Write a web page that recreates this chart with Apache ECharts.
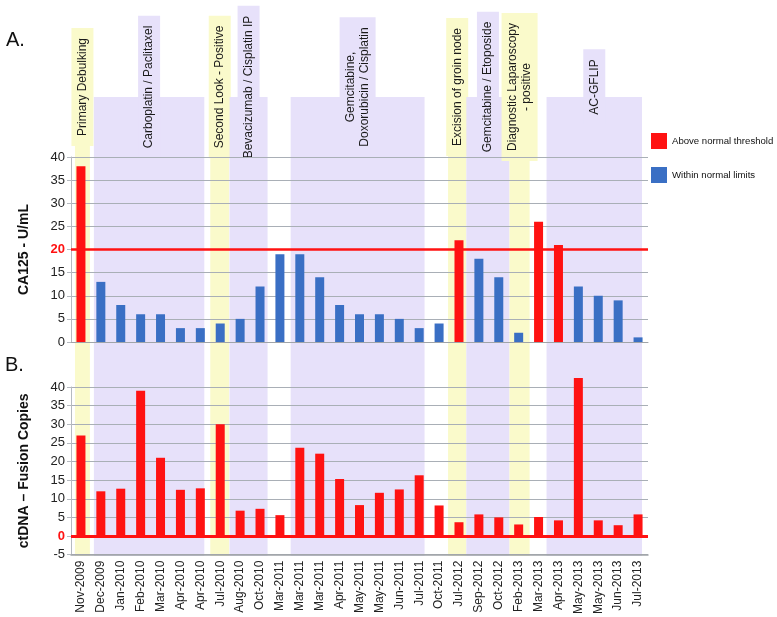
<!DOCTYPE html>
<html>
<head>
<meta charset="utf-8">
<script src="https://cdn.jsdelivr.net/npm/echarts@6/dist/echarts.min.js"></script>
<style>
  html, body { margin: 0; padding: 0; background: #fff; }
  #chart { width: 777px; height: 617px; }
</style>
</head>
<body>
<div id="chart"></div>
<script>
// ── Data ──

const dates = [
  'Nov-2009', 'Dec-2009', 'Jan-2010', 'Feb-2010', 'Mar-2010', 'Apr-2010', 'Apr-2010',
  'Jul-2010', 'Aug-2010', 'Oct-2010', 'Mar-2011', 'Mar-2011', 'Mar-2011', 'Apr-2011',
  'May-2011', 'May-2011', 'Jun-2011', 'Jul-2011', 'Oct-2011', 'Jul-2012', 'Sep-2012',
  'Oct-2012', 'Feb-2013', 'Mar-2013', 'Apr-2013', 'May-2013', 'May-2013', 'Jun-2013',
  'Jul-2013',
];

const ca125 = [38, 13, 8, 6, 6, 3, 3, 4, 5, 12, 19, 19, 14, 8, 6, 6, 5, 3, 4, 22, 18, 14, 2, 26, 21, 12, 10, 9, 1];

const ctdna = [27, 12, 12.7, 39, 21, 12.4, 12.8, 30, 6.8, 7.3, 5.6, 23.7, 22.1, 15.3, 8.3, 11.6,
  12.5, 16.3, 8.2, 3.7, 5.8, 5.0, 3.1, 5.1, 4.2, 42.4, 4.2, 2.9, 5.8];

const CA125_THRESHOLD = 20;

// treatment periods, in category units
const bandStart = [-0.3, 0.65, 6.5, 7.47, 10.54, 18.45, 19.37, 21.54, 23.4];
const bandEnd = [0.45, 6.2, 7.45, 9.38, 17.27, 19.37, 21.54, 22.55, 28.2];
const bandKind = ['surgery', 'chemo', 'surgery', 'chemo', 'chemo', 'surgery', 'chemo', 'surgery', 'chemo'];
const bandLabels = [
  ['Primary Debulking'],
  ['Carboplatin / Paclitaxel'],
  ['Second Look - Positive'],
  ['Bevacizumab / Cisplatin IP'],
  ['Gemcitabine,', 'Doxorubicin / Cisplatin'],
  ['Excision of groin node'],
  ['Gemcitabine / Etoposide'],
  ['Diagnostic Laparoscopy', '- positive'],
  ['AC-GFLIP'],
];

// ── Style ──

const RED = '#ff1212';
const BLUE = '#3a6fc4';
const LAVENDER = '#e7e1fa';
const YELLOW = '#fafacb';
const GRID = '#a9afb6';
const TEXT = '#222';
const FONT = '"Liberation Sans", Arial, sans-serif';

const GRID_L = 71, GRID_R = 129;
const BAND_TOP = 97;     // px
const LABEL_MID = 87;    // px
const PLOT_BOTTOM = 556; // px

function yAxisCommon(min, name, redValue) {
  return {
    type: 'value', min: min, max: 40, interval: 5,
    name: name, nameLocation: 'middle', nameGap: 40,
    nameTextStyle: { fontSize: 14, fontWeight: 'bold', color: '#111', fontFamily: FONT },
    axisLine: { show: true, lineStyle: { color: '#b5bac0' } },
    axisTick: { show: true, length: 4, lineStyle: { color: '#b5bac0' } },
    axisLabel: {
      fontSize: 13, color: TEXT, fontFamily: FONT, margin: 6,
      formatter: (v) => v === redValue ? '{r|' + v + '}' : String(v),
      rich: { r: { color: RED, fontSize: 13, fontWeight: 'bold', fontFamily: FONT } },
    },
    splitLine: { lineStyle: { color: GRID, width: 1.2 } },
  };
}

function renderBand(params, api) {
  const i = params.dataIndex;
  const x0 = api.coord([api.value(0), 0])[0];
  const x1 = api.coord([api.value(1), 0])[0];
  const yTop = api.coord([0, BAND_TOP])[1];
  const yBot = api.coord([0, PLOT_BOTTOM])[1];
  const yMid = api.coord([0, LABEL_MID])[1];
  const fill = bandKind[i] === 'surgery' ? YELLOW : LAVENDER;
  return {
    type: 'group',
    children: [
      {
        type: 'rect',
        shape: { x: x0, y: yTop, width: x1 - x0, height: yBot - yTop },
        style: { fill: fill },
      },
      {
        type: 'text',
        x: (x0 + x1) / 2, y: yMid,
        rotation: Math.PI / 2,
        style: {
          text: bandLabels[i].join('\n'),
          fill: '#1a1a1a', fontSize: 12, fontFamily: FONT, lineHeight: 14,
          align: 'center', verticalAlign: 'middle',
          backgroundColor: fill, padding: [4, 10],
        },
      },
    ],
  };
}

const chart = echarts.init(document.getElementById('chart'));

chart.setOption({
  backgroundColor: '#fff',
  animation: false,
  title: [
    { text: 'A.', left: 1, top: 25, textStyle: { fontSize: 20, fontWeight: 'normal', color: '#111', fontFamily: FONT } },
    { text: 'B.', left: 0, top: 350, textStyle: { fontSize: 20, fontWeight: 'normal', color: '#111', fontFamily: FONT } },
  ],
  legend: {
    data: ['Above normal threshold', 'Within normal limits'],
    orient: 'vertical', left: 651, top: 133, padding: 0,
    icon: 'rect', itemWidth: 16, itemHeight: 16, itemGap: 18,
    textStyle: { fontSize: 9.6, color: '#111', fontFamily: FONT },
  },
  grid: [
    { left: GRID_L, right: GRID_R, top: 157, height: 185 },
    { left: GRID_L, right: GRID_R, top: 387, bottom: 617 - PLOT_BOTTOM },
    { left: GRID_L, right: GRID_R, top: 0, bottom: 617 - PLOT_BOTTOM },
  ],
  xAxis: [
    {
      type: 'category', gridIndex: 0, data: dates,
      axisLine: { lineStyle: { color: '#a0a4a8' } },
      axisTick: { show: false }, axisLabel: { show: false },
    },
    {
      type: 'category', gridIndex: 1, data: dates,
      axisLine: { onZero: false, lineStyle: { color: '#a0a4a8', width: 1.5 } },
      axisTick: { show: false },
      axisLabel: { interval: 0, rotate: 90, fontSize: 12, color: TEXT, fontFamily: FONT, margin: 6 },
    },
    { type: 'value', gridIndex: 2, min: -0.5, max: dates.length - 0.5, show: false },
  ],
  yAxis: [
    Object.assign({ gridIndex: 0 }, yAxisCommon(0, 'CA125 - U/mL', CA125_THRESHOLD)),
    Object.assign({ gridIndex: 1 }, yAxisCommon(-5, 'ctDNA – Fusion Copies', 0)),
    { type: 'value', gridIndex: 2, min: 0, max: PLOT_BOTTOM, inverse: true, show: false },
  ],
  series: [
    {
      type: 'custom', name: 'treatments', xAxisIndex: 2, yAxisIndex: 2, z: -1,
      silent: true, clip: false,
      renderItem: renderBand,
      data: bandStart.map((s, i) => [s, bandEnd[i]]),
    },
    {
      name: 'Above normal threshold', type: 'bar', xAxisIndex: 0, yAxisIndex: 0,
      barWidth: 9, barGap: '-100%',
      itemStyle: { color: RED },
      data: ca125.map(v => v > CA125_THRESHOLD ? v : '-'),
      markLine: {
        silent: true, symbol: 'none', label: { show: false },
        lineStyle: { color: RED, width: 2.5, type: 'solid' },
        data: [{ yAxis: CA125_THRESHOLD }],
      },
    },
    {
      name: 'Within normal limits', type: 'bar', xAxisIndex: 0, yAxisIndex: 0,
      barWidth: 9, barGap: '-100%',
      itemStyle: { color: BLUE },
      data: ca125.map(v => v <= CA125_THRESHOLD ? v : '-'),
    },
    {
      name: 'ctDNA', type: 'bar', xAxisIndex: 1, yAxisIndex: 1,
      barWidth: 9, clip: false,
      itemStyle: { color: RED },
      data: ctdna,
      markLine: {
        silent: true, symbol: 'none', label: { show: false },
        lineStyle: { color: RED, width: 3, type: 'solid' },
        data: [{ yAxis: 0 }],
      },
    },
  ],
});
</script>
</body>
</html>
